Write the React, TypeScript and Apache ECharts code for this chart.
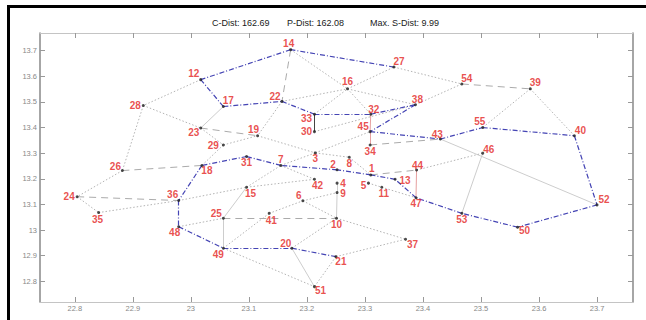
import React, { useEffect, useRef } from "react";
import * as echarts from "echarts";

// node coordinates (id = index + 1)
const nodeX = [
  23.310, 23.252, 23.2145, 23.252, 23.306, 23.193, 23.155, 23.273, 23.252, 23.251,
  23.329, 23.017, 23.352, 23.172, 23.096, 23.270, 23.056, 23.019, 23.115, 23.174,
  23.250, 23.157, 23.017, 22.804, 23.056, 22.882, 23.350, 22.918, 23.056, 23.213,
  23.096, 23.310, 23.213, 23.309, 22.841, 22.979, 23.370, 23.387, 23.585, 23.661,
  23.135, 23.213, 23.430, 23.389, 23.309, 23.503, 23.388, 22.979, 23.056, 23.563,
  23.213, 23.700, 23.467, 23.467, 23.503,
];
const nodeY = [
  13.215, 13.235, 13.301, 13.183, 13.183, 13.114, 13.252, 13.284, 13.146, 13.046,
  13.167, 13.587, 13.198, 13.704, 13.167, 13.551, 13.482, 13.252, 13.368, 12.929,
  12.896, 13.502, 13.398, 13.130, 13.046, 13.232, 13.636, 13.486, 13.332, 13.384,
  13.287, 13.452, 13.452, 13.332, 13.068, 13.115, 12.964, 13.489, 13.551, 13.368,
  13.065, 13.198, 13.355, 13.234, 13.384, 13.300, 13.126, 13.013, 12.929, 13.011,
  12.779, 13.098, 13.065, 13.570, 13.400,
];
// label placement relative to node (pixels)
const labelDx = [
  1, -4, 0, 6, -5, -4, 0, 0, 6, 0,
  2, -7, 10, -2, 4, 0, 5, 5, -4, -6,
  5, -7, -7, -8, -7, -7, 5, -8, -10, -8,
  0, 3, -8, 0, -1, -6, 7, 2, 5, 6,
  2, 3, -3, 1, -7, 6, 0, -4, -5, 7,
  6, 7, 0, 5, -3,
];
const labelDy = [
  -6, -5, 6, 0, 2, -5, -6, 6, 1, 6,
  6, -6, 1, -6, 6, -7, -6, 5, -6, -5,
  5, -5, 4, 0, -5, -4, -6, 0, 1, 0,
  6, -5, 4, 7, 7, -6, 5, -5, -6, -5,
  7, 6, -5, -5, -5, -4, 6, 6, 6, 3,
  4, -5, 6, -5, -6,
];

const blueEdges = [
  [27, 14], [14, 12], [12, 17], [17, 22], [22, 33], [33, 32], [32, 38], [38, 45],
  [45, 43], [43, 55], [55, 40], [40, 52], [52, 50], [50, 53], [53, 47], [47, 13],
  [13, 1], [1, 2], [2, 7], [7, 31], [31, 18], [18, 36], [36, 48], [48, 49],
  [49, 20], [20, 21],
];
const dottedEdges = [
  [12, 28], [28, 23], [28, 26], [23, 29], [29, 18], [29, 19], [26, 24], [24, 35],
  [35, 36], [36, 15], [15, 42], [15, 7], [48, 25], [49, 41], [41, 6], [49, 51],
  [20, 10], [21, 51], [21, 37], [10, 37], [6, 10], [6, 9], [7, 42], [7, 3],
  [22, 19], [19, 3], [3, 45], [3, 8], [8, 1], [5, 11], [11, 47], [44, 46],
  [30, 38], [33, 16], [22, 16], [14, 16], [16, 32], [16, 38], [16, 27], [27, 54],
  [38, 54], [39, 40], [39, 55],
];
const dashedEdges = [
  [23, 19], [26, 18], [24, 36], [25, 10], [14, 22], [34, 43], [54, 39], [1, 44],
];
const solidGreyEdges = [
  [23, 17], [25, 49], [20, 51], [9, 10], [4, 9], [46, 53], [43, 52], [25, 15],
];
const pinkEdges = [[32, 45], [45, 34], [44, 47]];
const darkEdges = [[33, 30]];

const xTicks = [22.8, 22.9, 23, 23.1, 23.2, 23.3, 23.4, 23.5, 23.6, 23.7];
const yTicks = [12.8, 12.9, 13, 13.1, 13.2, 13.3, 13.4, 13.5, 13.6, 13.7];
const titleParts = ["C-Dist: 162.69", "P-Dist: 162.08", "Max. S-Dist: 9.99"];

const X_MIN = 22.74;
const X_MAX = 23.762;
const Y_MIN = 12.719;
const Y_MAX = 13.769;

function edgeData(list: number[][]) {
  return list.map(([a, b]) => ({
    coords: [
      [nodeX[a - 1], nodeY[a - 1]],
      [nodeX[b - 1], nodeY[b - 1]],
    ],
  }));
}

function edgeSeries(list: number[][], color: string, type: any, width: number, z: number) {
  return {
    type: "lines",
    coordinateSystem: "cartesian2d",
    data: edgeData(list),
    silent: true,
    z,
    lineStyle: { color, width, type, opacity: 1, curveness: 0 },
  };
}

const fmt = (v: number) => String(Math.round(v * 10) / 10);

export default function App() {
  const ref = useRef<HTMLDivElement>(null);
  useEffect(() => {
    if (!ref.current) return;
    const chart = echarts.init(ref.current, undefined, { renderer: "svg" });
    const axisCommon = {
      type: "value",
      splitLine: { show: false },
      axisTick: { show: true, inside: true, length: 5, lineStyle: { color: "#999", width: 1 } },
    };
    chart.setOption({
      animation: false,
      backgroundColor: "#fff",
      grid: { left: 40, right: 13, top: 33, bottom: 18 },
      xAxis: [
        {
          ...axisCommon,
          position: "bottom",
          min: X_MIN,
          max: X_MAX,
          axisLine: { show: true, onZero: false, lineStyle: { color: "#c4c4c4", width: 1 } },
          axisTick: { ...axisCommon.axisTick, customValues: xTicks },
          axisLabel: {
            customValues: xTicks,
            formatter: fmt,
            color: "#888",
            fontSize: 7.5,
            margin: 2,
            fontFamily: "Liberation Sans, Arial, sans-serif",
          },
        },
        {
          ...axisCommon,
          position: "top",
          min: X_MIN,
          max: X_MAX,
          axisLine: { show: true, onZero: false, lineStyle: { color: "#c4c4c4", width: 1 } },
          axisTick: { ...axisCommon.axisTick, customValues: xTicks },
          axisLabel: { show: false },
        },
      ],
      yAxis: [
        {
          ...axisCommon,
          position: "left",
          min: Y_MIN,
          max: Y_MAX,
          axisLine: { show: true, onZero: false, lineStyle: { color: "#888", width: 1.5 } },
          axisTick: { ...axisCommon.axisTick, customValues: yTicks },
          axisLabel: {
            customValues: yTicks,
            formatter: fmt,
            color: "#888",
            fontSize: 7.5,
            margin: 3,
            fontFamily: "Liberation Sans, Arial, sans-serif",
          },
        },
        {
          ...axisCommon,
          position: "right",
          min: Y_MIN,
          max: Y_MAX,
          axisLine: { show: true, onZero: false, lineStyle: { color: "#888", width: 1.5 } },
          axisTick: { ...axisCommon.axisTick, customValues: yTicks },
          axisLabel: { show: false },
        },
      ],
      graphic: [
        { type: "rect", shape: { x: 7, y: 5, width: 3, height: 315 }, style: { fill: "#000" }, silent: true },
        { type: "rect", shape: { x: 7, y: 5, width: 639, height: 3 }, style: { fill: "#000" }, silent: true },
        ...titleParts.map((t, i) => ({
          type: "text",
          x: [212, 287, 370][i],
          y: 23,
          silent: true,
          style: {
            text: t,
            fill: "#1a1a1a",
            font: "9px 'Liberation Sans', Arial, sans-serif",
            textVerticalAlign: "middle",
          },
        })),
      ],
      series: [
        edgeSeries(solidGreyEdges, "#cdcdcd", "solid", 1, 1),
        edgeSeries(dottedEdges, "#b4b4b4", [1.5, 2], 1, 2),
        edgeSeries(dashedEdges, "#ababab", [7, 5], 1, 2),
        edgeSeries(pinkEdges, "#e6a0a0", "solid", 1, 3),
        edgeSeries(darkEdges, "#444", "solid", 1, 3),
        edgeSeries(blueEdges, "#4444b4", [5, 2, 1, 2], 1.2, 4),
        {
          type: "scatter",
          symbol: "circle",
          symbolSize: 3,
          z: 6,
          itemStyle: { color: "#222" },
          data: nodeX.map((x, i) => ({
            name: String(i + 1),
            value: [x, nodeY[i]],
            label: { offset: [labelDx[i], labelDy[i]] },
          })),
          label: {
            show: true,
            position: "inside",
            formatter: "{b}",
            color: "#e3241e",
            fontWeight: "bold",
            fontSize: 10,
            fontFamily: "Liberation Sans, Arial, sans-serif",
          },
        },
      ],
    });
    return () => chart.dispose();
  }, []);
  return (
    <div
      ref={ref}
      style={{ position: "absolute", left: 0, top: 0, width: 646, height: 320 }}
    />
  );
}
